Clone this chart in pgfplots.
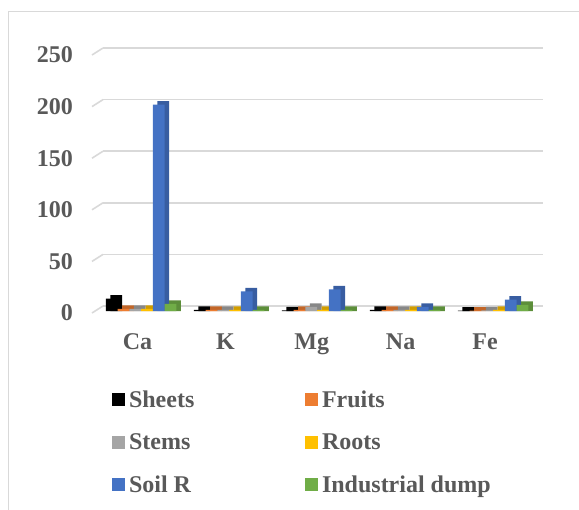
\documentclass[border=0pt]{standalone}
\usepackage{fontspec}
\setmainfont{Liberation Serif}
\usepackage{pgfplots}
\usepackage{pgfplotstable}
\pgfplotsset{compat=1.18}

\definecolor{cSheets}{HTML}{000000}
\definecolor{cFruits}{HTML}{ED7D31}
\definecolor{cStems}{HTML}{A5A5A5}
\definecolor{cRoots}{HTML}{FFC000}
\definecolor{cSoil}{HTML}{4472C4}
\definecolor{cDump}{HTML}{70AD47}
\definecolor{gridgray}{HTML}{D9D9D9}
\definecolor{labelgray}{HTML}{595959}

% element concentrations per part
\pgfplotstableread{
x   sheets fruits stems roots soil dump
0   12     2      2     2     200  7
1   1      1      1     1     19   1
2   0.5    1      4     1     21   1
3   1      1      1     1     4    1
4   0.3    0.3    0.5   1     11   6
}\data

\newcommand{\bigfont}{\fontsize{24bp}{28bp}\selectfont\bfseries}

% back copy (gives the 3d side and top): same floor, 3.5bp deeper
\newcommand{\backbar}[3]{%
\addplot[ybar, bar width=11.75bp, bar shift=#3bp, fill=#2!82!black, draw=none,
  yshift=-5bp, forget plot] table[x=x,y expr=\thisrow{#1}+3.4]{\data};}
% front face
\newcommand{\frontbar}[4]{%
\addplot[ybar, bar width=11.75bp, bar shift=#3bp, fill=#2, draw=none,
  yshift=-5bp] table[x=x,y=#1]{\data};
\addlegendentry{#4}}

\begin{document}
\begin{tikzpicture}
\useasboundingbox (-103bp,-204bp) rectangle (476bp,306bp);
\draw[gridgray, line width=1bp] (-94bp,-204bp) -- (-94bp,294bp) -- (476bp,294bp);
\begin{axis}[
  scale only axis, width=440bp, height=258bp,
  xmin=-0.432, xmax=4.568, ymin=0, ymax=250,
  clip=false,
  ytick={0,50,...,250},
  xtick={-0.04,0.96,1.94,2.95,3.91},
  xticklabels={Ca,K,Mg,Na,Fe},
  axis line style={draw=none},
  major tick length=0pt,
  ymajorgrids, grid style={gridgray, line width=1.6bp},
  /pgf/number format/assume math mode=true,
  tick label style={font=\bigfont, text=labelgray, inner sep=0pt},
  yticklabel style={anchor=east, xshift=-30bp, yshift=-7bp},
  xticklabel style={anchor=north, text height=16bp, yshift=-27bp},
  legend columns=2, legend cell align=left,
  legend image code/.code={\fill[#1, yshift=5bp] (0bp,1bp) rectangle (13bp,14bp);},
  legend style={at={(0.0205,-0.3256)}, anchor=north west, draw=none,
    inner sep=0pt, outer sep=0pt, font=\bigfont, text=labelgray,
    nodes={inner sep=0pt, text height=17bp, text depth=5bp, anchor=base west},
    row sep=20.5bp,
    /tikz/column 1/.style={column sep=4bp},
    /tikz/column 2/.style={column sep=110.7bp},
    /tikz/column 3/.style={column sep=4bp}},
]
% slanted side-wall pieces of the gridlines
\pgfplotsinvokeforeach{0,50,100,150,200,250}{
  \draw[gridgray, line width=1.6bp] (axis cs:-0.432,#1) -- ++(-11bp,-7bp);
}
\backbar{sheets}{cSheets}{-24.875}
\backbar{fruits}{cFruits}{-13.125}
\backbar{stems}{cStems}{-1.375}
\backbar{roots}{cRoots}{10.375}
\backbar{soil}{cSoil}{22.125}
\backbar{dump}{cDump}{33.875}
\frontbar{sheets}{cSheets}{-29.375}{Sheets}
\frontbar{fruits}{cFruits}{-17.625}{Fruits}
\frontbar{stems}{cStems}{-5.875}{Stems}
\frontbar{roots}{cRoots}{5.875}{Roots}
\frontbar{soil}{cSoil}{17.625}{Soil R}
\frontbar{dump}{cDump}{29.375}{Industrial dump}
\end{axis}
\end{tikzpicture}
\end{document}
